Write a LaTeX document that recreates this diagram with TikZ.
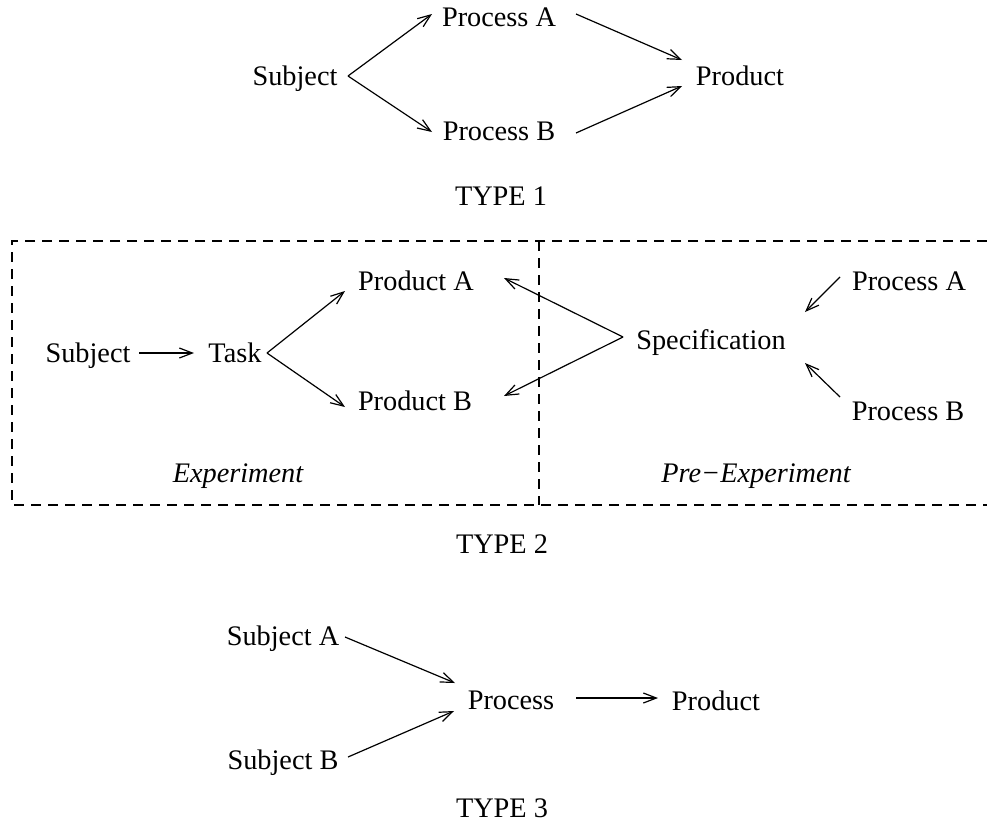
\documentclass[tikz,border=0pt]{standalone}
\usepackage{fontspec}
\setmainfont{Liberation Serif}
\usetikzlibrary{arrows.meta}
\begin{document}
\begin{tikzpicture}[x=1pt,y=-1pt,
  lbl/.style={inner sep=0pt,anchor=base,font=\fontsize{28.3pt}{34pt}\selectfont},
  ilbl/.style={lbl,font=\fontsize{28.3pt}{34pt}\selectfont\itshape},
  conn/.style={line width=1.2pt,-{Straight Barb[length=13pt,width=10pt,line width=1.2pt]}},
  boxline/.style={line width=1.2pt,dash pattern=on 10pt off 7pt}]
\useasboundingbox (0,0) rectangle (987,823);
% TYPE 1
\node[lbl] (s1) at (295,85) {Subject};
\node[lbl] (pa1) at (499,26) {Process A};
\node[lbl] (pb1) at (499,140) {Process B};
\node[lbl] (prod1) at (740,85) {Product};
\node[lbl] (t1) at (501,205) {TYPE 1};
\draw[conn] ([shift={(53,-9)}]s1.base) -- ([shift={(-67,-12)}]pa1.base);
\draw[conn] ([shift={(53,-9)}]s1.base) -- ([shift={(-67,-8)}]pb1.base);
\draw[conn] ([shift={(77,-12)}]pa1.base) -- ([shift={(-58,-25)}]prod1.base);
\draw[conn] ([shift={(77,-7)}]pb1.base) -- ([shift={(-58,1)}]prod1.base);
% TYPE 2 box
\draw[boxline] (987,241) -- (12,241) -- (12,505) -- (987,505);
\draw[boxline] (539,241) -- (539,505);
\node[lbl] (s2) at (88,362) {Subject};
\node[lbl] (task) at (235,362) {Task};
\node[lbl] (pA) at (416,290) {Product A};
\node[lbl] (pB) at (415,410) {Product B};
\node[lbl] (spec) at (711,349) {Specification};
\node[lbl] (qA) at (909,290) {Process A};
\node[lbl] (qB) at (908,420) {Process B};
\node[ilbl] (exp) at (238,482) {Experiment};
\node[ilbl] (pre) at (756,482) {Pre−Experiment};
\node[lbl] (t2) at (502,553) {TYPE 2};
\draw[conn] ([shift={(51,-9)}]s2.base) -- ([shift={(-41,-9)}]task.base);
\draw[conn] ([shift={(32,-9)}]task.base) -- ([shift={(-71,1)}]pA.base);
\draw[conn] ([shift={(32,-9)}]task.base) -- ([shift={(-70,-3)}]pB.base);
\draw[conn] ([shift={(-88,-12)}]spec.base) -- ([shift={(88,-12)}]pA.base);
\draw[conn] ([shift={(-88,-12)}]spec.base) -- ([shift={(89,-14)}]pB.base);
\draw[conn] ([shift={(-69,-13)}]qA.base) -- ([shift={(94,-37)}]spec.base);
\draw[conn] ([shift={(-68,-23)}]qB.base) -- ([shift={(94,14)}]spec.base);
% TYPE 3
\node[lbl] (sa) at (283,645) {Subject A};
\node[lbl] (sb) at (283,769) {Subject B};
\node[lbl] (proc) at (511,709) {Process};
\node[lbl] (prod3) at (716,710) {Product};
\node[lbl] (t3) at (502,817) {TYPE 3};
\draw[conn] ([shift={(62,-8)}]sa.base) -- ([shift={(-56,-26)}]proc.base);
\draw[conn] ([shift={(65,-12)}]sb.base) -- ([shift={(-57,2)}]proc.base);
\draw[conn] ([shift={(65,-11)}]proc.base) -- ([shift={(-58,-12)}]prod3.base);
\end{tikzpicture}
\end{document}
